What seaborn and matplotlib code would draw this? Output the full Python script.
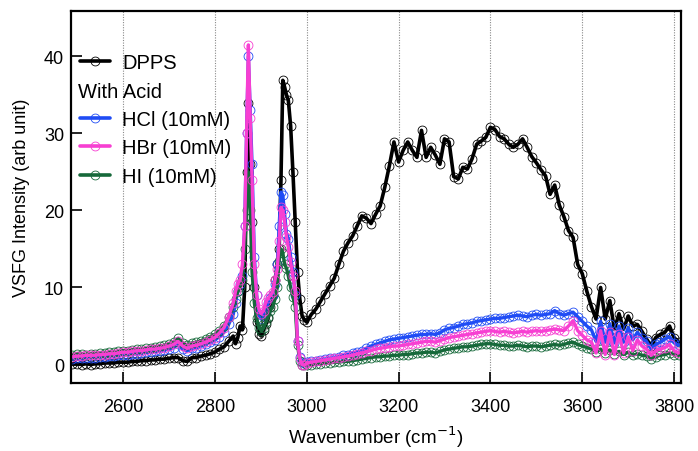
import numpy as np
import pandas as pd
import matplotlib
matplotlib.use("Agg")
import matplotlib.pyplot as plt
from matplotlib.lines import Line2D
import seaborn as sns

# ---------------- data ----------------
wn_a = [2490, 2500, 2510, 2520, 2530, 2540, 2550, 2560, 2570, 2580, 2590, 2600,
        2610, 2620, 2630, 2640, 2650, 2660, 2670, 2680, 2690, 2700, 2710, 2720,
        2730, 2740, 2750, 2760, 2770, 2780, 2790, 2800, 2810, 2820, 2830, 2840]
wn_b = [2845, 2850, 2855, 2860, 2865, 2869, 2873, 2877, 2881, 2886, 2891, 2896,
        2901, 2906, 2911, 2916, 2921, 2926, 2931, 2936, 2940, 2944, 2948, 2952,
        2956, 2960, 2965, 2970, 2975, 2980, 2985, 2990, 2995, 3000]
wn_c = [3010, 3020, 3030, 3040, 3050, 3060, 3070, 3080, 3090, 3100,
        3110, 3120, 3130, 3140, 3150, 3160, 3170, 3180, 3190, 3200,
        3210, 3220, 3230, 3240, 3250, 3260, 3270, 3280, 3290, 3300,
        3310, 3320, 3330, 3340, 3350, 3360, 3370, 3380, 3390, 3400,
        3410, 3420, 3430, 3440, 3450, 3460, 3470, 3480, 3490, 3500,
        3510, 3520, 3530, 3540, 3550, 3560, 3570, 3580, 3590, 3600,
        3610, 3620, 3630, 3640, 3650, 3660, 3670, 3680, 3690, 3700,
        3710, 3720, 3730, 3740, 3750, 3760, 3770, 3780, 3790, 3800, 3810]

dpps_a = [0.1, 0.1, 0.0, 0.1, 0.0, 0.1, 0.1, 0.2, 0.2, 0.2, 0.3, 0.3,
          0.3, 0.4, 0.4, 0.5, 0.5, 0.6, 0.6, 0.7, 0.7, 0.8, 0.9, 0.9,
          0.5, 0.4, 0.9, 0.9, 1.1, 1.2, 1.4, 1.6, 2.0, 2.3, 3.0, 3.7]
dpps_b = [2.7, 3.5, 5.0, 4.5, 10.0, 25.0, 34.0, 26.0, 18.5, 10.0, 5.5, 4.0,
          3.7, 4.5, 5.2, 6.0, 7.5, 9.0, 11.0, 13.0, 15.0, 24.0, 36.9, 36.0,
          35.0, 34.3, 31.0, 25.0, 18.5, 12.0, 8.5, 6.3, 5.8, 5.5]
dpps_c = [6.5, 7.2, 8.2, 9.2, 10.2, 11.2, 13.0, 14.7, 15.8, 16.7,
          18.0, 19.3, 19.0, 18.3, 19.5, 20.6, 23.0, 25.8, 28.9, 26.3,
          27.8, 28.9, 27.8, 26.9, 30.4, 26.9, 28.2, 27.2, 26.0, 29.3,
          28.9, 24.4, 24.1, 25.6, 25.4, 26.7, 28.6, 29.0, 29.5, 30.8,
          30.5, 29.6, 29.3, 28.6, 28.2, 28.6, 29.3, 28.2, 27.0, 26.2,
          25.3, 24.5, 22.1, 23.3, 20.7, 19.2, 17.4, 16.5, 13.0, 11.8,
          9.5, 7.5, 5.9, 10.0, 5.9, 8.3, 4.6, 6.6, 4.6, 6.3,
          5.0, 5.2, 4.3, 3.3, 2.4, 3.5, 3.9, 4.2, 5.0, 3.5, 2.9]

hcl_a = [0.7, 0.8, 0.8, 0.8, 0.9, 0.9, 1.0, 1.0, 1.1, 1.1, 1.2, 1.3,
         1.3, 1.4, 1.4, 1.5, 1.6, 1.6, 1.7, 1.8, 1.9, 2.0, 2.2, 2.6,
         2.0, 1.8, 2.1, 2.2, 2.4, 2.6, 2.9, 3.2, 3.6, 4.2, 5.2, 6.5]
hcl_b = [8.0, 9.5, 10.5, 11.5, 18.0, 30.0, 40.0, 33.0, 26.0, 14.0, 9.0, 6.5,
         5.9, 6.3, 7.0, 8.0, 8.6, 9.0, 10.5, 13.0, 18.0, 22.4, 22.0, 19.5,
         17.0, 16.3, 14.0, 12.0, 9.0, 3.0, 1.0, 0.3, 0.2, 0.3]
hcl_c = [0.4, 0.5, 0.6, 0.7, 0.8, 0.9, 1.0, 1.2, 1.3, 1.5,
         1.6, 1.8, 2.1, 2.4, 2.6, 2.8, 3.0, 3.2, 3.3, 3.4,
         3.5, 3.6, 3.7, 3.8, 3.9, 3.9, 4.0, 3.9, 4.1, 4.5,
         4.7, 4.8, 5.0, 5.2, 5.3, 5.4, 5.6, 5.7, 5.8, 5.9,
         6.0, 6.0, 6.1, 6.2, 6.3, 6.4, 6.3, 6.2, 6.4, 6.5,
         6.4, 6.5, 6.6, 7.0, 6.6, 6.4, 6.6, 6.8, 6.2, 5.6,
         5.0, 4.5, 3.0, 5.6, 2.9, 5.3, 2.8, 5.0, 2.9, 4.8,
         3.2, 4.2, 3.4, 3.0, 2.0, 2.6, 2.9, 3.3, 3.6, 2.8, 2.5]

hbr_a = [1.0, 1.1, 1.1, 1.2, 1.2, 1.2, 1.3, 1.3, 1.4, 1.4, 1.5, 1.6,
         1.6, 1.7, 1.8, 1.8, 1.9, 2.0, 2.0, 2.1, 2.2, 2.4, 2.6, 3.0,
         2.4, 2.1, 2.4, 2.5, 2.7, 2.9, 3.2, 3.5, 4.1, 4.8, 6.2, 8.0]
hbr_b = [9.5, 10.5, 11.0, 13.0, 18.0, 30.0, 41.5, 32.0, 24.0, 13.0, 9.0, 7.2,
         6.6, 7.0, 8.1, 8.6, 9.0, 9.4, 11.0, 12.4, 16.0, 20.4, 20.0, 18.5,
         16.5, 15.2, 13.3, 11.5, 9.5, 3.0, 0.8, 0.0, -0.1, 0.2]
hbr_c = [0.3, 0.4, 0.5, 0.6, 0.7, 0.8, 0.9, 1.0, 1.1, 1.2,
         1.4, 1.5, 1.7, 1.8, 2.0, 2.1, 2.2, 2.3, 2.4, 2.4,
         2.5, 2.6, 2.7, 2.8, 2.9, 3.0, 3.0, 2.9, 3.1, 3.3,
         3.5, 3.6, 3.7, 3.8, 3.9, 4.0, 4.1, 4.2, 4.3, 4.4,
         4.3, 4.2, 4.3, 4.2, 4.1, 4.2, 4.3, 4.2, 4.3, 4.4,
         4.3, 4.4, 4.5, 4.6, 4.5, 4.4, 5.0, 5.7, 4.4, 3.8,
         3.2, 2.9, 1.5, 4.4, 1.3, 4.2, 1.3, 4.0, 1.5, 3.6,
         1.8, 3.2, 2.4, 2.0, 1.2, 1.8, 2.0, 2.2, 2.6, 1.8, 1.5]

hi_a = [1.3, 1.4, 1.4, 1.3, 1.4, 1.4, 1.5, 1.5, 1.6, 1.6, 1.7, 1.8,
        1.8, 1.9, 2.0, 2.0, 2.1, 2.2, 2.3, 2.4, 2.5, 2.7, 2.9, 3.4,
        2.8, 2.5, 2.8, 2.9, 3.1, 3.3, 3.6, 3.9, 4.4, 5.0, 6.2, 7.5]
hi_b = [8.5, 9.5, 10.0, 11.0, 15.0, 20.0, 25.0, 20.0, 12.0, 8.0, 6.0, 4.8,
        4.4, 4.8, 5.5, 6.2, 7.0, 7.5, 8.5, 10.0, 13.5, 15.0, 14.5, 13.0,
        12.5, 11.5, 10.0, 8.8, 7.5, 2.5, 0.5, 0.0, -0.1, 0.0]
hi_c = [0.0, 0.1, 0.1, 0.2, 0.2, 0.3, 0.3, 0.4, 0.4, 0.5,
        0.6, 0.7, 0.8, 0.9, 1.0, 1.0, 1.1, 1.1, 1.2, 1.2,
        1.3, 1.3, 1.4, 1.5, 1.5, 1.6, 1.6, 1.5, 1.7, 1.9,
        2.0, 2.1, 2.2, 2.3, 2.3, 2.4, 2.5, 2.6, 2.7, 2.7,
        2.6, 2.5, 2.5, 2.4, 2.4, 2.5, 2.4, 2.3, 2.4, 2.4,
        2.3, 2.4, 2.5, 2.6, 2.5, 2.6, 2.8, 2.9, 2.6, 2.4,
        2.2, 2.0, 1.6, 2.0, 1.5, 1.9, 1.4, 1.7, 1.3, 1.6,
        1.2, 1.4, 1.2, 1.1, 0.7, 1.0, 1.2, 1.3, 1.5, 1.3, 1.2]

labels = ["DPPS", "HCl (10mM)", "HBr (10mM)", "HI (10mM)"]
colors = {"DPPS": "#000000", "HCl (10mM)": "#1f4cf5",
          "HBr (10mM)": "#f73fd2", "HI (10mM)": "#16693a"}
x_ticks = [2600, 2800, 3000, 3200, 3400, 3600, 3800]
y_ticks = [0, 10, 20, 30, 40]

wn = wn_a + wn_b + wn_c
series = {
    "DPPS": dpps_a + dpps_b + dpps_c,
    "HCl (10mM)": hcl_a + hcl_b + hcl_c,
    "HBr (10mM)": hbr_a + hbr_b + hbr_c,
    "HI (10mM)": hi_a + hi_b + hi_c,
}
df = pd.concat([pd.DataFrame({"wn": wn, "val": v, "series": k})
                for k, v in series.items()], ignore_index=True)

# ---------------- figure ----------------
sns.set_style("ticks")
plt.rcParams["font.family"] = ["Liberation Sans", "DejaVu Sans"]
plt.rcParams["text.color"] = "black"
plt.rcParams["axes.labelcolor"] = "black"
plt.rcParams["xtick.color"] = "black"
plt.rcParams["ytick.color"] = "black"

fig = plt.figure(figsize=(6.98, 4.52), dpi=100)
ax = fig.add_axes([71 / 698, 1 - 384 / 452, 610 / 698, 372 / 452])

for xt in x_ticks:
    ax.axvline(xt, color="#8a8a8a", lw=0.8, ls=(0, (1, 1.3)), zorder=0)

draw_order = ["DPPS", "HCl (10mM)", "HI (10mM)", "HBr (10mM)"]
for name in draw_order:
    sub = df[df["series"] == name]
    lw = 2.6 if name == "DPPS" else 2.4
    sns.lineplot(data=sub, x="wn", y="val", ax=ax, color=colors[name],
                 lw=lw, marker="o", markersize=6.4, markerfacecolor="none",
                 markeredgecolor=colors[name], markeredgewidth=0.6,
                 estimator=None, sort=False, legend=False)

ax.set_xlim(2486.8, 3815)
ax.set_ylim(-2.4, 45.9)
ax.set_xticks(x_ticks)
ax.set_yticks(y_ticks)
ax.xaxis.set_ticks_position("bottom")
ax.yaxis.set_ticks_position("left")
ax.tick_params(axis="both", direction="in", length=8, width=1.2,
               labelsize=13, colors="black")
ax.tick_params(axis="x", pad=11)
ax.tick_params(axis="y", pad=5)
for sp in ax.spines.values():
    sp.set_visible(True)
    sp.set_linewidth(1.6)
    sp.set_color("black")

ax.set_xlabel("Wavenumber (cm$^{-1}$)", fontsize=13.5, labelpad=6,
              color="black")
ax.set_ylabel("VSFG Intensity (arb unit)", fontsize=13, labelpad=10,
              color="black")

# legend
handles = []
for name in labels:
    handles.append(Line2D([], [], color=colors[name], lw=2.6, marker="o",
                          markersize=6.4, markerfacecolor="none",
                          markeredgecolor=colors[name], markeredgewidth=0.6))
blank = Line2D([], [], color="none")
leg_handles = [handles[0], blank, handles[1], handles[2], handles[3]]
leg_labels = [labels[0], " ", labels[1], labels[2], labels[3]]
leg = ax.legend(leg_handles, leg_labels, loc="upper left", frameon=False,
                fontsize=14.5, handlelength=1.5, handletextpad=0.6,
                labelspacing=0.47, borderaxespad=0, borderpad=0,
                bbox_to_anchor=(9 / 610, 1 - 42 / 372))
for t in leg.get_texts():
    t.set_color("black")
ax.text(7 / 610, 1 - 80 / 372, "With Acid", transform=ax.transAxes,
        fontsize=14.5, ha="left", va="center", color="black")

fig.savefig("out.png", dpi=100)
